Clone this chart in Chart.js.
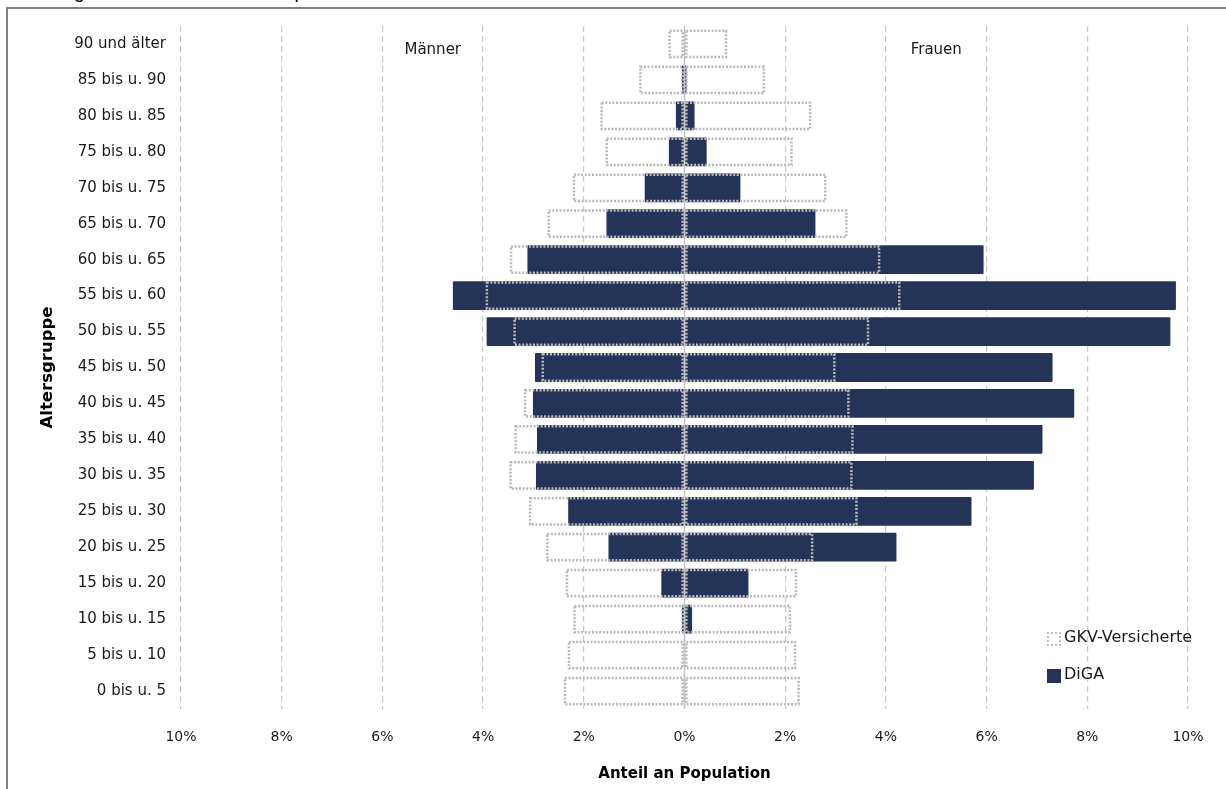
<!DOCTYPE html>
<html>
<head>
<meta charset="utf-8">
<script src="https://cdn.jsdelivr.net/npm/chart.js@4.4.1/dist/chart.umd.min.js"></script>
<style>
  body { margin: 0; background: #fff; overflow: hidden; }
  #wrap { position: relative; width: 1226px; height: 789px; overflow: hidden; }
  #heading { position: absolute; left: 0; top: -18px; font: 19px "Liberation Sans", Arial, sans-serif; line-height: 20px; color: #000; white-space: nowrap; }
  #heading span { position: absolute; left: 248px; }
  #frame { position: absolute; left: 6px; top: 7px; width: 1400px; height: 900px; border-left: 2px solid #808080; border-top: 2px solid #808080; }
  #chart { position: absolute; left: 0; top: 0; }
  .leg { position: absolute; left: 1047px; font: 16px "DejaVu Sans", sans-serif; color: #1a1a1a; line-height: 20px; }
  .leg i { position: absolute; left: 0; width: 14px; height: 14px; box-sizing: border-box; }
  .leg b { position: absolute; left: 17px; font-weight: normal; white-space: nowrap; }
</style>
</head>
<body>
<div id="wrap">
  <div id="heading">Abbildung 3:<span>Inanspruchnahme nach Alter und Geschlecht</span></div>
  <div id="frame"></div>
  <canvas id="chart" width="1226" height="789"></canvas>
  <div class="leg" style="top:627px"><i style="top:5px;border:2px dotted #bdbdbd"></i><b style="top:0">GKV-Versicherte</b></div>
  <div class="leg" style="top:664px"><i style="top:5px;background:#243358"></i><b style="top:0">DiGA</b></div>
</div>
<script>
// Altersgruppen von oben nach unten
var altersgruppen = ['90 und älter', '85 bis u. 90', '80 bis u. 85', '75 bis u. 80', '70 bis u. 75',
    '65 bis u. 70', '60 bis u. 65', '55 bis u. 60', '50 bis u. 55', '45 bis u. 50', '40 bis u. 45',
    '35 bis u. 40', '30 bis u. 35', '25 bis u. 30', '20 bis u. 25', '15 bis u. 20', '10 bis u. 15',
    '5 bis u. 10', '0 bis u. 5'];

// Anteile in %
var gkvMaenner  = [0.32, 0.90, 1.67, 1.57, 2.22, 2.72, 3.47, 3.95, 3.40, 2.84, 3.19, 3.38, 3.48, 3.09, 2.75, 2.36, 2.21, 2.32, 2.40];
var gkvFrauen   = [0.85, 1.60, 2.52, 2.15, 2.82, 3.24, 3.89, 4.29, 3.67, 3.00, 3.28, 3.36, 3.34, 3.44, 2.56, 2.24, 2.12, 2.22, 2.29];
var digaMaenner = [0, 0.05, 0.17, 0.31, 0.79, 1.55, 3.12, 4.60, 3.93, 2.97, 3.01, 2.93, 2.95, 2.31, 1.51, 0.46, 0.05, 0.01, 0.01];
var digaFrauen  = [0, 0.04, 0.20, 0.44, 1.11, 2.60, 5.94, 9.76, 9.65, 7.31, 7.74, 7.11, 6.94, 5.70, 4.21, 1.27, 0.15, 0.01, 0.01];

var xTicks = [-10, -8, -6, -4, -2, 0, 2, 4, 6, 8, 10];
var seiten = ['Männer', 'Frauen'];

var navy = '#243358';
var gridGrey = '#c8c8c8';

var neg = function (arr) { return arr.map(function (v) { return -v; }); };

//GKV outlines are dotted, chart.js bars can't do that -> drawn here//
var pyramidPlugin = {
    id: 'pyramid',
    afterDatasetsDraw: function (chart) {
        var ctx = chart.ctx;
        var area = chart.chartArea;
        var xs = chart.scales.x, ys = chart.scales.y;
        ctx.save();
        ctx.strokeStyle = '#b9b9b9';
        ctx.lineWidth = 2.5;
        ctx.setLineDash([2, 1.6]);
        chart.data.datasets.forEach(function (ds, i) {
            if (!ds.dotted) return;
            chart.getDatasetMeta(i).data.forEach(function (bar) {
                var p = bar.getProps(['x', 'y', 'base', 'height'], true);
                var l = Math.min(p.x, p.base), r = Math.max(p.x, p.base);
                if (r - l < 0.5) return;
                ctx.strokeRect(l + 1.25, p.y - p.height / 2 + 1.25, r - l - 2.5, p.height - 2.5);
            });
        });
        // null-linie liegt ueber den balken
        ctx.setLineDash([]);
        ctx.strokeStyle = '#c4c4c4';
        ctx.lineWidth = 1.5;
        var x0 = xs.getPixelForValue(0);
        ctx.beginPath();
        ctx.moveTo(x0, area.top);
        ctx.lineTo(x0, area.bottom);
        ctx.stroke();
        // Männer / Frauen
        ctx.fillStyle = '#1a1a1a';
        ctx.font = '15px "DejaVu Sans", sans-serif';
        ctx.textAlign = 'center';
        ctx.textBaseline = 'middle';
        var yTop = ys.getPixelForValue(0) + 6;
        ctx.fillText(seiten[0], xs.getPixelForValue(-5), yTop);
        ctx.fillText(seiten[1], xs.getPixelForValue(5), yTop);
        ctx.restore();
    }
};

var ctx = document.getElementById('chart').getContext('2d');
var myChart = new Chart(ctx, {
    type: 'bar',
    data: {
        labels: altersgruppen,
        datasets: [
            { label: 'GKV-Versicherte', data: neg(gkvMaenner), dotted: true, backgroundColor: 'rgba(0,0,0,0)', borderWidth: 0 },
            { label: 'GKV-Versicherte', data: gkvFrauen, dotted: true, backgroundColor: 'rgba(0,0,0,0)', borderWidth: 0 },
            { label: 'DiGA', data: neg(digaMaenner), backgroundColor: navy, borderWidth: 0, borderRadius: 1, borderSkipped: false },
            { label: 'DiGA', data: digaFrauen, backgroundColor: navy, borderWidth: 0, borderRadius: 1, borderSkipped: false }
        ]
    },
    options: {
        indexAxis: 'y',
        responsive: false,
        animation: false,
        grouped: false,
        categoryPercentage: 0.8,
        barPercentage: 1,
        layout: { padding: { left: 34, right: 38, top: 26, bottom: 2 } },
        plugins: {
            legend: { display: false },
            tooltip: { enabled: false }
        },
        scales: {
            x: {
                min: -10,
                max: 10,
                afterFit: function (scale) { scale.height = 78; },
                afterBuildTicks: function (scale) {
                    scale.ticks = xTicks.map(function (v) { return { value: v }; });
                },
                ticks: {
                    padding: 20,
                    color: '#1a1a1a',
                    font: { family: '"DejaVu Sans", sans-serif', size: 14 },
                    callback: function (v) { return Math.abs(v) + '%'; }
                },
                grid: {
                    drawTicks: false,
                    lineWidth: 1.2,
                    color: function (c) { return c.tick && c.tick.value === 0 ? 'rgba(0,0,0,0)' : gridGrey; }
                },
                border: { display: false, dash: [6, 4] },
                title: {
                    display: true,
                    text: 'Anteil an Population',
                    color: '#000',
                    font: { family: '"DejaVu Sans", sans-serif', size: 15, weight: 'bold' },
                    padding: { top: 4, bottom: 4 }
                }
            },
            y: {
                afterFit: function (scale) { scale.width = 147; },
                grid: { display: false, drawTicks: false, tickLength: 0 },
                border: { display: false },
                ticks: {
                    padding: 15,
                    color: '#1a1a1a',
                    font: { family: '"DejaVu Sans", sans-serif', size: 15 }
                },
                title: {
                    display: true,
                    text: 'Altersgruppe',
                    color: '#000',
                    font: { family: '"DejaVu Sans", sans-serif', size: 16.5, weight: 'bold' },
                    padding: { top: 4, bottom: 4 }
                }
            }
        }
    },
    plugins: [pyramidPlugin]
});
</script>
</body>
</html>
